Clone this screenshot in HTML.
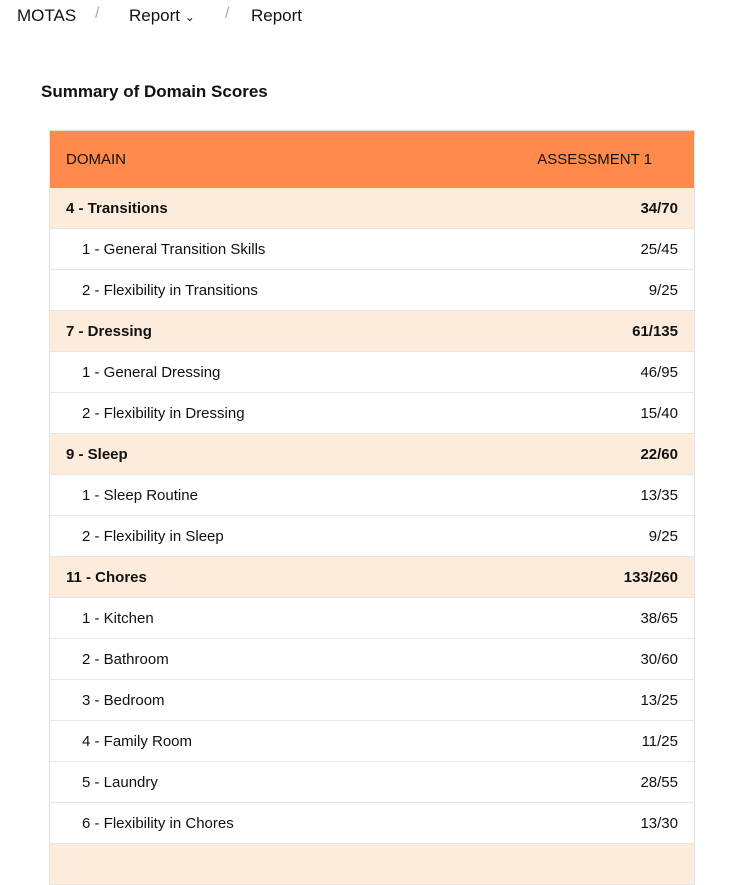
<!DOCTYPE html>
<html><head><meta charset="utf-8"><style>
*{margin:0;padding:0;box-sizing:border-box}
body{width:742px;height:846px;overflow:hidden;background:#fff;font-family:"Liberation Sans",sans-serif;color:#111;position:relative}
.bc{position:absolute;top:6px;font-size:17px;}
.sl{position:absolute;top:5px;font-size:16px;color:#aaa}
h2{position:absolute;left:41px;top:82px;font-size:17px;font-weight:600}
.tbl{position:absolute;left:49px;top:130px;width:646px;border:1px solid #e2e2e2;border-bottom:none}
.hd{height:57px;background:#ff8a4c;display:flex;align-items:center;justify-content:space-between;padding:0 42px 0 16px;font-size:15px;font-weight:500}
.r{height:41px;border-bottom:1px solid #e6e6e6;display:flex;align-items:center;justify-content:space-between;padding:0 16px 0 32px;font-size:15px}
.g{background:#fdebdc;font-weight:bold;padding-left:16px}
</style></head><body>
<div class="bc" style="left:17px">MOTAS</div><div class="sl" style="left:95px">/</div>
<div class="bc" style="left:129px">Report <span style="font-size:12px">&#8964;</span></div><div class="sl" style="left:225px">/</div>
<div class="bc" style="left:251px">Report</div>
<h2>Summary of Domain Scores</h2>
<div class="tbl">
<div class="hd"><span>DOMAIN</span><span>ASSESSMENT 1</span></div>
<div class="r g"><span>4 - Transitions</span><span>34/70</span></div>
<div class="r"><span>1 - General Transition Skills</span><span>25/45</span></div>
<div class="r"><span>2 - Flexibility in Transitions</span><span>9/25</span></div>
<div class="r g"><span>7 - Dressing</span><span>61/135</span></div>
<div class="r"><span>1 - General Dressing</span><span>46/95</span></div>
<div class="r"><span>2 - Flexibility in Dressing</span><span>15/40</span></div>
<div class="r g"><span>9 - Sleep</span><span>22/60</span></div>
<div class="r"><span>1 - Sleep Routine</span><span>13/35</span></div>
<div class="r"><span>2 - Flexibility in Sleep</span><span>9/25</span></div>
<div class="r g"><span>11 - Chores</span><span>133/260</span></div>
<div class="r"><span>1 - Kitchen</span><span>38/65</span></div>
<div class="r"><span>2 - Bathroom</span><span>30/60</span></div>
<div class="r"><span>3 - Bedroom</span><span>13/25</span></div>
<div class="r"><span>4 - Family Room</span><span>11/25</span></div>
<div class="r"><span>5 - Laundry</span><span>28/55</span></div>
<div class="r"><span>6 - Flexibility in Chores</span><span>13/30</span></div>
<div class="r g"><span></span><span></span></div>
</div>
</body></html>
